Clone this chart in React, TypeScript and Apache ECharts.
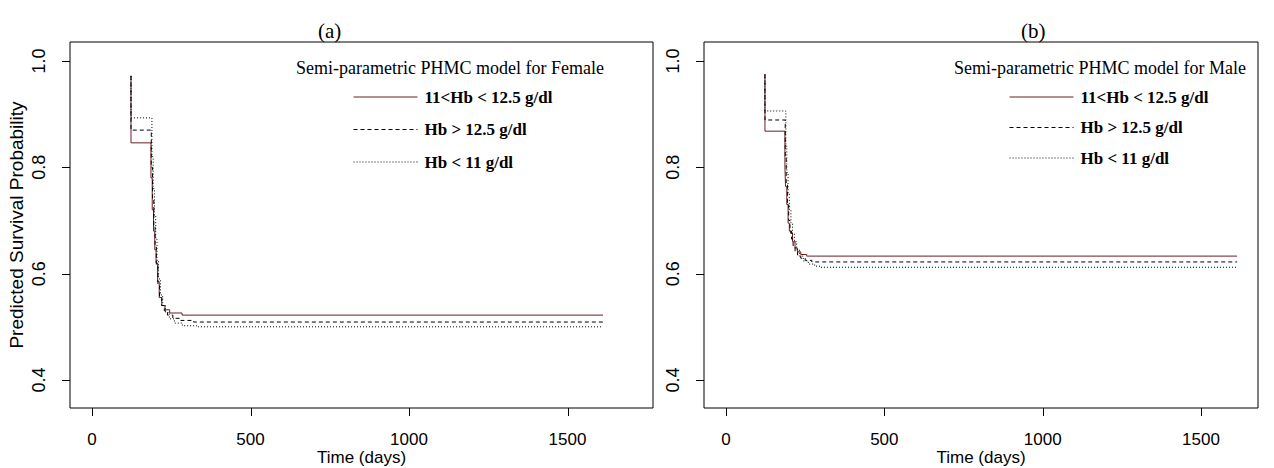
import React, { useEffect, useRef } from "react";
import * as echarts from "echarts";

// ---- data ----
const X_TICKS = [0, 500, 1000, 1500];
const Y_TICKS = [0.4, 0.6, 0.8, 1.0];
const LEGEND_NAMES = ["11<Hb < 12.5 g/dl", "Hb > 12.5 g/dl", "Hb < 11 g/dl"];
const PANEL_TITLES = ["(a)", "(b)"];
const MODEL_TITLES = ["Semi-parametric PHMC model for Female", "Semi-parametric PHMC model for Male"];
const X_NAME = "Time (days)";
const Y_NAME = "Predicted Survival Probability";

// Female (panel a)
const femMidT = [123, 123, 186, 190, 194, 198, 202, 207, 212, 220, 230, 245, 284, 1612];
const femMidS = [0.972, 0.846, 0.78, 0.72, 0.68, 0.645, 0.62, 0.585, 0.555, 0.54, 0.532, 0.526, 0.522, 0.522];
const femHighT = [123, 123, 187, 191, 195, 199, 203, 208, 213, 220, 228, 238, 255, 280, 320, 1612];
const femHighS = [0.972, 0.87, 0.8, 0.74, 0.69, 0.65, 0.615, 0.58, 0.555, 0.54, 0.53, 0.522, 0.516, 0.512, 0.509, 0.509];
const femLowT = [123, 123, 189, 193, 197, 201, 205, 210, 216, 223, 232, 244, 260, 285, 335, 1612];
const femLowS = [0.972, 0.893, 0.82, 0.76, 0.71, 0.665, 0.625, 0.59, 0.56, 0.54, 0.527, 0.515, 0.507, 0.502, 0.5, 0.5];

// Male (panel b)
const maleMidT = [123, 123, 186, 188, 192, 196, 200, 204, 210, 218, 226, 236, 255, 1614];
const maleMidS = [0.975, 0.868, 0.8, 0.764, 0.73, 0.695, 0.68, 0.676, 0.66, 0.648, 0.641, 0.636, 0.633, 0.633];
const maleHighT = [123, 123, 187, 190, 194, 198, 202, 207, 212, 218, 226, 236, 250, 271, 1614];
const maleHighS = [0.975, 0.889, 0.82, 0.77, 0.73, 0.7, 0.68, 0.665, 0.652, 0.642, 0.635, 0.629, 0.625, 0.622, 0.622];
const maleLowT = [123, 123, 189, 192, 196, 200, 205, 210, 216, 223, 232, 244, 260, 280, 300, 1614];
const maleLowS = [0.975, 0.906, 0.84, 0.79, 0.75, 0.72, 0.695, 0.675, 0.66, 0.645, 0.633, 0.624, 0.618, 0.614, 0.612, 0.612];

const zip = (t: number[], s: number[]) => t.map((v, i) => [v, s[i]]);

const MAROON = "#6b1d24";
const SANS = "'Liberation Sans', Arial, sans-serif";
const SERIF = "'Liberation Serif', 'Times New Roman', serif";
const Y_MIN = 0.3473;
const Y_MAX = 1.0357;
const X_RANGES = [
  [-69.4, 1769.7],
  [-69.5, 1680],
];
const TICK_LEN = 8;

const lineStyles = [
  { color: MAROON, width: 1, type: "solid" as any },
  { color: "#000", width: 1, type: [4, 3] as any },
  { color: "#000", width: 1, type: [1, 2] as any },
];

function makeSeries(idx: number, sets: number[][][]) {
  return sets.map((data, k) => ({
    type: "line",
    name: LEGEND_NAMES[k],
    xAxisIndex: idx,
    yAxisIndex: idx,
    data,
    step: "end",
    symbol: "none",
    showSymbol: false,
    lineStyle: lineStyles[k],
    itemStyle: { color: lineStyles[k].color },
    silent: true,
  }));
}

function xAxis(idx: number) {
  return {
    type: "value",
    gridIndex: idx,
    min: X_RANGES[idx][0],
    max: X_RANGES[idx][1],
    name: X_NAME,
    nameLocation: "middle",
    nameGap: 41,
    nameMoveOverlap: false,
    nameTextStyle: { fontFamily: SANS, fontSize: 17, color: "#000" },
    axisLine: { show: false, onZero: false },
    splitLine: { show: false },
    axisTick: { show: false },
    axisLabel: {
      color: "#000",
      fontFamily: SANS,
      fontSize: 17,
      margin: 23,
      customValues: X_TICKS,
      formatter: (v: number) => String(v),
    },
  };
}

function yAxis(idx: number, withName: boolean) {
  return {
    type: "value",
    gridIndex: idx,
    min: Y_MIN,
    max: Y_MAX,
    name: withName ? Y_NAME : "",
    nameLocation: "middle",
    nameGap: 44,
    nameMoveOverlap: false,
    nameTextStyle: { fontFamily: SANS, fontSize: 19, color: "#000" },
    axisLine: { show: false, onZero: false },
    splitLine: { show: false },
    axisTick: { show: false },
    axisLabel: {
      color: "#000",
      fontFamily: SANS,
      fontSize: 18,
      rotate: 90,
      margin: 22,
      customValues: Y_TICKS,
      formatter: (v: number) => v.toFixed(1),
    },
  };
}

function legend(left: number, top: number, gap: number) {
  return {
    orient: "vertical",
    left,
    top,
    itemWidth: 64,
    itemHeight: 14,
    itemGap: gap,
    data: LEGEND_NAMES,
    selectedMode: false,
    itemStyle: { opacity: 0 },
    lineStyle: { width: 1, opacity: 1 },
    textStyle: {
      fontFamily: SERIF,
      fontWeight: "bold",
      fontSize: 17,
      color: "#000",
      lineHeight: 18,
      padding: [0, 0, 0, 2],
    },
  };
}

export default function App() {
  const ref = useRef<HTMLDivElement>(null);
  useEffect(() => {
    document.body.style.margin = "0";
    const chart = echarts.init(ref.current!, null, { renderer: "svg" });
    const fem = [zip(femMidT, femMidS), zip(femHighT, femHighS), zip(femLowT, femLowS)];
    const male = [zip(maleMidT, maleMidS), zip(maleHighT, maleHighS), zip(maleLowT, maleLowS)];
    chart.setOption({
      animation: false,
      backgroundColor: "#fff",
      title: [
        { text: PANEL_TITLES[0], left: 313, top: 15, textStyle: { fontFamily: SERIF, fontSize: 21, fontWeight: "normal", color: "#000" } },
        { text: PANEL_TITLES[1], left: 1016, top: 15, textStyle: { fontFamily: SERIF, fontSize: 21, fontWeight: "normal", color: "#000" } },
        { text: MODEL_TITLES[0], left: 291, top: 54, textStyle: { fontFamily: SERIF, fontSize: 18, fontWeight: "normal", color: "#000" } },
        { text: MODEL_TITLES[1], left: 949, top: 54, textStyle: { fontFamily: SERIF, fontSize: 18, fontWeight: "normal", color: "#000" } },
      ],
      legend: [legend(348, 83, 14.5), legend(1004, 83, 12.5)],
      grid: [
        { left: 70, top: 42, width: 583, height: 366, show: true, borderColor: "#000", borderWidth: 1, backgroundColor: "transparent", outerBoundsMode: "none", containLabel: false },
        { left: 704, top: 42, width: 554, height: 366, show: true, borderColor: "#000", borderWidth: 1, backgroundColor: "transparent", outerBoundsMode: "none", containLabel: false },
      ],
      xAxis: [xAxis(0), xAxis(1)],
      yAxis: [yAxis(0, true), yAxis(1, false)],
      series: [...makeSeries(0, fem), ...makeSeries(1, male)],
    });

    // tick marks placed through the chart's own axis scales
    const ticks: any[] = [];
    [0, 1].forEach((gi) => {
      const xMin = X_RANGES[gi][0];
      X_TICKS.forEach((v) => {
        const p = chart.convertToPixel({ gridIndex: gi } as any, [v, Y_MIN]) as number[];
        if (!p) return;
        const x = Math.round(p[0]) + 0.5;
        const y = Math.round(p[1]);
        ticks.push({ type: "line", z: 100, silent: true, shape: { x1: x, y1: y, x2: x, y2: y + TICK_LEN }, style: { stroke: "#000", lineWidth: 1 } });
      });
      Y_TICKS.forEach((v) => {
        const p = chart.convertToPixel({ gridIndex: gi } as any, [xMin, v]) as number[];
        if (!p) return;
        const x = Math.round(p[0]);
        const y = Math.round(p[1]) + 0.5;
        ticks.push({ type: "line", z: 100, silent: true, shape: { x1: x - TICK_LEN, y1: y, x2: x, y2: y }, style: { stroke: "#000", lineWidth: 1 } });
      });
    });
    chart.setOption({ graphic: ticks });
    return () => chart.dispose();
  }, []);
  return <div ref={ref} style={{ width: 1274, height: 468, position: "absolute", left: 0, top: 0 }} />;
}
